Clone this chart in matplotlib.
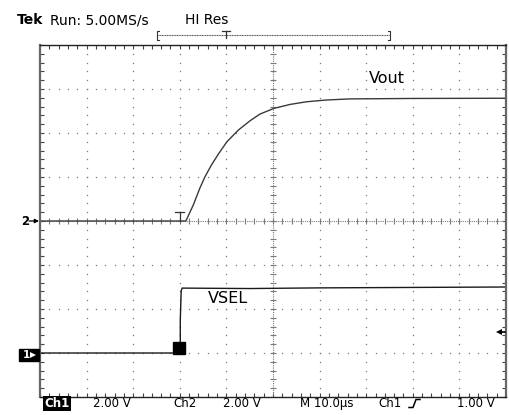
import numpy as np
import matplotlib.pyplot as plt
from matplotlib.patches import Rectangle

# Осциллограмма: время в мкс, напряжение в В
vout_t = [0, 31.3, 32.9, 34.3, 35.4, 36.8, 38.3, 40.1, 42.6, 45.1, 47.2, 49.4,
          50.2, 53.7, 57.2, 61.5, 66.5, 80, 100]
vout_v = [0, 0, 0.73, 1.49, 2.01, 2.55, 3.05, 3.60, 4.14, 4.56, 4.86, 5.05,
          5.12, 5.30, 5.42, 5.50, 5.55, 5.57, 5.58]

vsel_t = [0, 30.1, 30.1, 30.3, 30.5, 45, 60, 80, 100]
vsel_v = [0, 0, 1.47, 2.83, 2.95, 2.93, 2.96, 2.98, 3.0]

# Настройки каналов
ch1_volts_div = 2.0
ch2_volts_div = 2.0
ch1_offset_div = -3
ch2_offset_div = 0
time_div = 10.0
trig_t = 30.0

ch1_y = np.array(vsel_v) / ch1_volts_div + ch1_offset_div
ch2_y = np.array(vout_v) / ch2_volts_div + ch2_offset_div

W, H = 509, 415
fig = plt.figure(figsize=(W / 100, H / 100), dpi=100)
ax = fig.add_axes([40 / W, (H - 397) / H, 466 / W, 352 / H])
ax.set_xlim(0, 10 * time_div)
ax.set_ylim(-4, 4)

grid_c = '#7a7a7a'
# точечная сетка
for gx in np.arange(time_div, 10 * time_div, time_div):
    if abs(gx - 5 * time_div) < 1e-6:
        continue
    ys = np.arange(-4, 4.01, 0.2)
    ax.plot(np.full_like(ys, gx), ys, ls='none', marker='s', ms=0.9, mew=0, color=grid_c)
for gy in range(-3, 4):
    if gy == 0:
        continue
    xs = np.arange(0, 100.01, time_div / 5)
    ax.plot(xs, np.full_like(xs, gy), ls='none', marker='s', ms=0.9, mew=0, color=grid_c)

# центральные линии с рисками
ax.axvline(5 * time_div, ls=(0, (1, 1)), lw=0.8, color=grid_c)
ax.axhline(0, ls=(0, (1, 1)), lw=0.8, color=grid_c)
ys = np.arange(-4, 4.01, 0.2)
ax.plot(np.full_like(ys, 5 * time_div), ys, ls='none', marker='_', ms=4, mew=0.8, color=grid_c)
xs = np.arange(0, 100.01, time_div / 5)
ax.plot(xs, np.zeros_like(xs), ls='none', marker='|', ms=4, mew=0.8, color=grid_c)

# трассы
ax.plot(vout_t, ch2_y, color='#3a3a3a', lw=1.0)
ax.plot(vsel_t, ch1_y, color='#1a1a1a', lw=1.0)

# маркер T на канале 2 и квадрат на канале 1
ax.plot([trig_t, trig_t], [ch2_offset_div, ch2_offset_div + 0.2], color='#333', lw=0.9)
ax.plot([trig_t - 1.0, trig_t + 1.0], [ch2_offset_div + 0.2] * 2, color='#333', lw=0.9)
ax.plot(trig_t - 0.1, ch1_offset_div + 0.12, marker='s', ms=8.5, color='black')

ax.text(70.5, 3.25, 'Vout', fontsize=11.5, va='center', ha='left')
ax.text(36, -1.75, 'VSEL', fontsize=11.5, va='center', ha='left')

# рамка
ax.set_xticks(np.arange(0, 101, time_div))
ax.set_xticks(np.arange(0, 101, time_div / 5), minor=True)
ax.set_yticks(np.arange(-4, 4.01, 1))
ax.set_yticks(np.arange(-4, 4.01, 0.2), minor=True)
ax.tick_params(which='both', direction='in', length=3, width=0.8, color='#444',
               top=True, right=True, labelbottom=False, labelleft=False)
for s in ['left', 'right']:
    ax.spines[s].set_color('#666')
    ax.spines[s].set_linewidth(1.6)
for s in ['top', 'bottom']:
    ax.spines[s].set_color('#222')
    ax.spines[s].set_linewidth(1.0)

# оверлей в пикселях для подписей экрана
ov = fig.add_axes([0, 0, 1, 1])
ov.set_xlim(0, W)
ov.set_ylim(H, 0)
ov.axis('off')
ov.patch.set_alpha(0)

ov.text(17, 20.5, 'Tek', fontsize=10, fontweight='bold', va='center', ha='left')
ov.text(50, 20.5, 'Run: 5.00MS/s', fontsize=10, va='center', ha='left')
ov.text(185, 20.5, 'HI Res', fontsize=10, va='center', ha='left')

# скобка записи
ov.plot([159, 157, 157, 159], [31, 31, 40, 40], color='#333', lw=0.8)
ov.plot([388, 390, 390, 388], [31, 31, 40, 40], color='#333', lw=0.8)
ov.plot([158, 389], [35.5, 35.5], color='#555', lw=0.8, ls=(0, (1, 0.5)))
ov.plot([222, 230], [31, 31], color='#333', lw=0.9)
ov.plot([226, 226], [31, 38], color='#333', lw=0.9)

# метки уровней слева
ov.text(25, 221, '2', fontsize=8.5, fontweight='bold', va='center', ha='center')
ov.annotate('', xy=(39, 221), xytext=(29, 221),
            arrowprops=dict(arrowstyle='-|>', color='black', lw=0.9,
                            mutation_scale=6, shrinkA=0, shrinkB=0))
ov.add_patch(Rectangle((19.5, 349), 20, 11.5, color='black'))
ov.text(26, 354.8, '1', fontsize=7.5, fontweight='bold', color='white', va='center', ha='center')
ov.plot(33.5, 354.8, marker='>', ms=4, color='white', mew=0)

# уровень запуска справа
ov.plot([499, 505], [332, 332], color='black', lw=1.2)
ov.plot(499, 332, marker='<', ms=5, color='black', mew=0)

# нижняя строка
ov.text(57, 403.5, 'Ch1', fontsize=8.5, fontweight='bold', color='white', va='center',
        ha='center', bbox=dict(boxstyle='square,pad=0.12', fc='black', ec='none'))
ov.text(93, 403.5, '2.00 V', fontsize=8.5, va='center', ha='left')
ov.text(173, 403.5, 'Ch2', fontsize=8.5, va='center', ha='left')
ov.text(223, 403.5, '2.00 V', fontsize=8.5, va='center', ha='left')
ov.text(300, 403.5, 'M 10.0µs', fontsize=8.5, va='center', ha='left')
ov.text(378, 403.5, 'Ch1', fontsize=8.5, va='center', ha='left')
ov.plot([409, 413, 416, 420], [407.5, 407.5, 399.5, 399.5], color='black', lw=1.1)
ov.text(457, 403.5, '1.00 V', fontsize=8.5, va='center', ha='left')

fig.savefig('out.png', dpi=100)
